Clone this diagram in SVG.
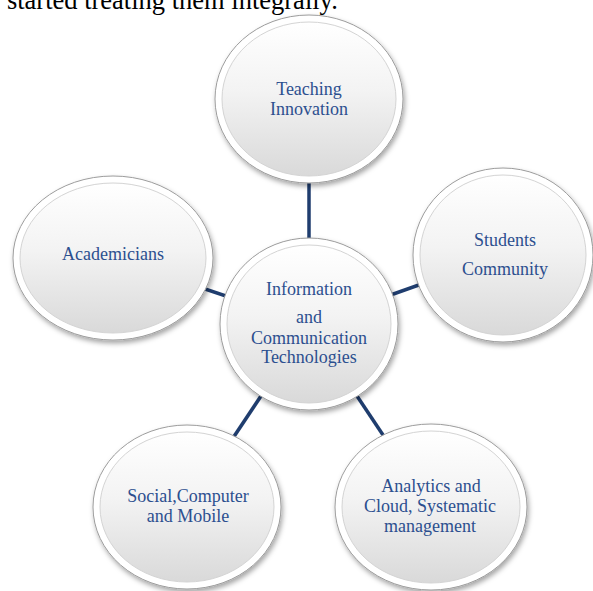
<svg xmlns="http://www.w3.org/2000/svg" width="593" height="591" viewBox="0 0 593 591">
<style>
.ring{fill:#ffffff;stroke:#9c9c9c;stroke-width:1}
.body{fill:url(#bodyGrad);stroke:#d4d4d4;stroke-width:1}
.lbl{font-family:"Liberation Serif","Times New Roman",serif;font-size:18px;fill:#2c4f8f;text-anchor:middle}
.conn{stroke:#1f3d6e;stroke-width:3.5;fill:none}
.top{font-family:"Liberation Serif","Times New Roman",serif;font-size:26.5px;fill:#000}
</style>
<defs>
<linearGradient id="bodyGrad" x1="0" y1="0" x2="0" y2="1">
<stop offset="0" stop-color="#ffffff"/>
<stop offset="0.45" stop-color="#f3f3f3"/>
<stop offset="1" stop-color="#d9d9d9"/>
</linearGradient>
<filter id="sh" x="-20%" y="-20%" width="140%" height="140%">
<feDropShadow dx="1.5" dy="3" stdDeviation="2.5" flood-color="#000" flood-opacity="0.35"/>
</filter>
</defs>
<rect width="593" height="591" fill="#ffffff"/>
<text class="top" x="-13" y="9">y started treating them integrally.</text>
<g id="connectors">
<line class="conn" x1="309" y1="324" x2="309" y2="99"/>
<line class="conn" x1="309" y1="324" x2="113" y2="258"/>
<line class="conn" x1="309" y1="324" x2="503" y2="255"/>
<line class="conn" x1="309" y1="324" x2="187" y2="507"/>
<line class="conn" x1="309" y1="324" x2="431" y2="507"/>
</g>
<g id="teaching">
<ellipse class="ring" cx="309" cy="99" rx="94" ry="84" filter="url(#sh)"/>
<ellipse class="body" cx="309" cy="99" rx="87" ry="77"/>
<text class="lbl" x="309" y="95">Teaching</text>
<text class="lbl" x="309" y="115">Innovation</text>
</g>
<g id="academicians">
<ellipse class="ring" cx="113" cy="258" rx="100" ry="82" filter="url(#sh)"/>
<ellipse class="body" cx="113" cy="258" rx="93" ry="75"/>
<text class="lbl" x="113" y="260">Academicians</text>
</g>
<g id="students">
<ellipse class="ring" cx="503" cy="255" rx="90" ry="87" filter="url(#sh)"/>
<ellipse class="body" cx="503" cy="255" rx="83" ry="80"/>
<text class="lbl" x="505" y="246">Students</text>
<text class="lbl" x="505" y="275">Community</text>
</g>
<g id="ict">
<ellipse class="ring" cx="309" cy="324" rx="89" ry="86" filter="url(#sh)"/>
<ellipse class="body" cx="309" cy="324" rx="82" ry="79"/>
<text class="lbl" x="309" y="295">Information</text>
<text class="lbl" x="309" y="323">and</text>
<text class="lbl" x="309" y="344">Communication</text>
<text class="lbl" x="309" y="363">Technologies</text>
</g>
<g id="social">
<ellipse class="ring" cx="187" cy="507" rx="94" ry="82" filter="url(#sh)"/>
<ellipse class="body" cx="187" cy="507" rx="87" ry="75"/>
<text class="lbl" x="188" y="502">Social,Computer</text>
<text class="lbl" x="188" y="522">and Mobile</text>
</g>
<g id="analytics">
<ellipse class="ring" cx="431" cy="507" rx="96" ry="83" filter="url(#sh)"/>
<ellipse class="body" cx="431" cy="507" rx="89" ry="76"/>
<text class="lbl" x="431" y="492">Analytics and</text>
<text class="lbl" x="430" y="512">Cloud, Systematic</text>
<text class="lbl" x="430" y="532">management</text>
</g>
</svg>
